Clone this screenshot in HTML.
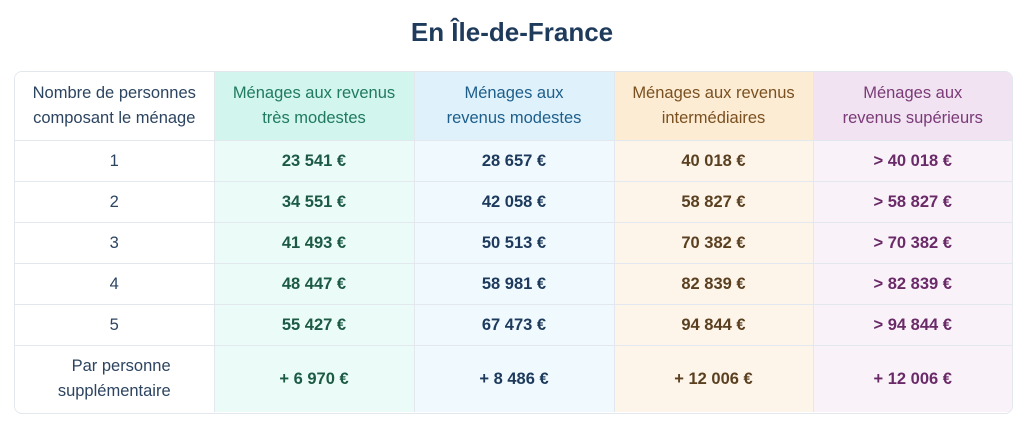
<!DOCTYPE html>
<html lang="fr"><head><meta charset="utf-8"><style>
html,body{margin:0;padding:0;background:#fff;width:1024px;height:424px;overflow:hidden;font-family:"Liberation Sans",sans-serif}
h1{position:absolute;left:0;top:14px;width:1024px;margin:0;text-align:center;font-size:26px;font-weight:bold;color:#1f3b5c;line-height:36px}
.wrap{position:absolute;left:14px;top:71px;width:997px;height:341px;border:1px solid #e3e8ee;border-radius:8px;overflow:hidden}
table{border-collapse:collapse;width:997px;table-layout:fixed}
td,th{text-align:center;font-size:16.5px;padding:0;border-right:1px solid #e3e8ee;border-bottom:1px solid #e3e8ee;line-height:25px}
th{font-weight:normal;height:68px}
td{height:40px;font-weight:bold}
tr.last td{height:66px;border-bottom:none}
td.c0,th.c0{background:#fff;color:#2c4460;font-weight:normal}
.h1{background:#d2f5ee;color:#1f7a5e}.b1{background:#ebfcf8;color:#1c5a45}
.h2{background:#dff2fc;color:#1d5e8a}.b2{background:#eff9fe;color:#1d3a5c}
.h3{background:#fdecd4;color:#7a5020}.b3{background:#fef5ea;color:#5a4020}
.h4{background:#f1e3f1;color:#7a3a78;border-right:none}.b4{background:#f9f2f9;color:#6a2a68;border-right:none}
.rb{display:inline-block;text-align:right}
</style></head><body>
<h1>En Île-de-France</h1>
<div class="wrap">
<table>
<colgroup><col style="width:199px"><col style="width:200px"><col style="width:200px"><col style="width:199px"><col style="width:199px"></colgroup>
<tr>
<th class="c0">Nombre de personnes<br>composant le ménage</th>
<th class="h1">Ménages aux revenus<br>très modestes</th>
<th class="h2">Ménages aux<br>revenus modestes</th>
<th class="h3">Ménages aux revenus<br>intermédiaires</th>
<th class="h4">Ménages aux<br>revenus supérieurs</th>
</tr>
<tr><td class="c0">1</td><td class="b1">23 541 €</td><td class="b2">28 657 €</td><td class="b3">40 018 €</td><td class="b4">&gt; 40 018 €</td></tr>
<tr><td class="c0">2</td><td class="b1">34 551 €</td><td class="b2">42 058 €</td><td class="b3">58 827 €</td><td class="b4">&gt; 58 827 €</td></tr>
<tr><td class="c0">3</td><td class="b1">41 493 €</td><td class="b2">50 513 €</td><td class="b3">70 382 €</td><td class="b4">&gt; 70 382 €</td></tr>
<tr><td class="c0">4</td><td class="b1">48 447 €</td><td class="b2">58 981 €</td><td class="b3">82 839 €</td><td class="b4">&gt; 82 839 €</td></tr>
<tr><td class="c0">5</td><td class="b1">55 427 €</td><td class="b2">67 473 €</td><td class="b3">94 844 €</td><td class="b4">&gt; 94 844 €</td></tr>
<tr class="last"><td class="c0"><span class="rb">Par personne<br>supplémentaire</span></td><td class="b1">+ 6 970 €</td><td class="b2">+ 8 486 €</td><td class="b3">+ 12 006 €</td><td class="b4">+ 12 006 €</td></tr>
</table></div>
</body></html>
